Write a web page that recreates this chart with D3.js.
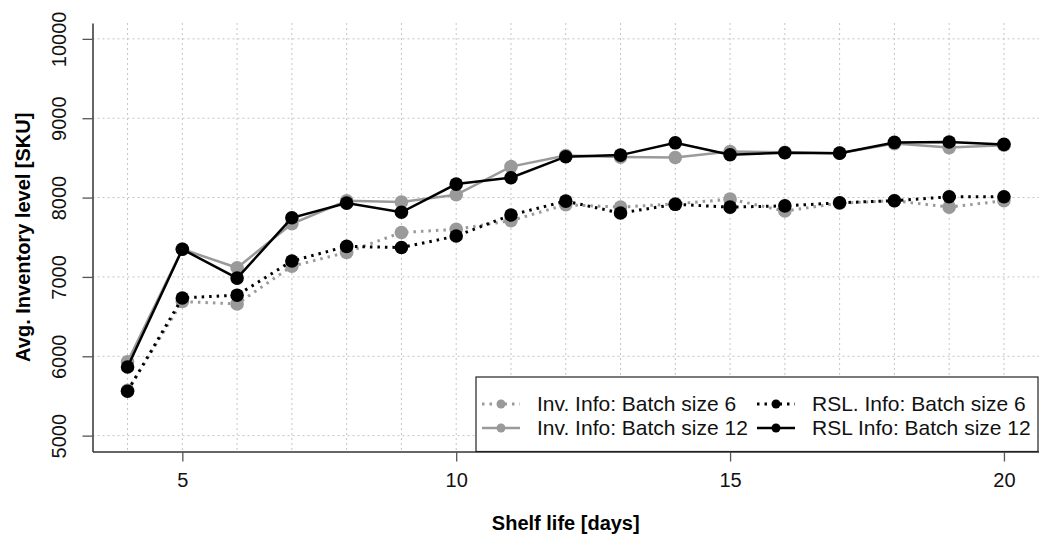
<!DOCTYPE html>
<html>
<head>
<meta charset="utf-8">
<style>
	body {margin: 0; background: #fff;}
	svg {display: block; font-family: "Liberation Sans", Arial, sans-serif;}
</style>
<script src="https://d3js.org/d3.v7.min.js"></script>
</head>
<body>
<svg id="plot1" width="1039" height="538"></svg>

<script id="chart-data">
	// values
	var shelfLife = [4, 5, 6, 7, 8, 9, 10, 11, 12, 13, 14, 15, 16, 17, 18, 19, 20];
	var invBatch6 = [5570, 6690, 6660, 7135, 7310, 7560, 7600, 7710, 7910, 7880, 7920, 7980, 7830, 7930, 7960, 7880, 7960];
	var invBatch12 = [5930, 7350, 7115, 7670, 7960, 7945, 8035, 8390, 8530, 8510, 8505, 8580, 8570, 8560, 8680, 8630, 8660];
	var rslBatch6 = [5560, 6735, 6770, 7200, 7385, 7370, 7515, 7780, 7955, 7805, 7915, 7880, 7895, 7935, 7960, 8010, 8010];
	var rslBatch12 = [5865, 7348, 6985, 7745, 7930, 7815, 8170, 8250, 8515, 8535, 8690, 8540, 8565, 8560, 8695, 8700, 8670];

	var xTicks = [5, 10, 15, 20];
	var yTicks = [5000, 6000, 7000, 8000, 9000, 10000];
	var seriesNames = ["Inv. Info: Batch size 6", "Inv. Info: Batch size 12", "RSL. Info: Batch size 6", "RSL Info: Batch size 12"];
</script>

<script id="chart-building">
	var plot1 = d3.select("#plot1");
	var grey = "#9a9a9a";

	var series = [
		{name: seriesNames[0], values: invBatch6, color: grey, dash: "2.5,5"},
		{name: seriesNames[1], values: invBatch12, color: grey, dash: null},
		{name: seriesNames[2], values: rslBatch6, color: "#000", dash: "2.5,5"},
		{name: seriesNames[3], values: rslBatch12, color: "#000", dash: null}
	];

	// R style 4% padding around xlim c(4,20) and ylim c(5000,10000)
	var x = d3.scaleLinear().domain([3.36, 20.64]).range([92.5, 1039]);
	var y = d3.scaleLinear().domain([4800, 10200]).range([451.5, 23]);

	// grid
	var grid = plot1.append("g").attr("class", "grid");
	shelfLife.forEach(function (d) {
		grid.append("line")
			.attr("x1", x(d)).attr("x2", x(d))
			.attr("y1", y.range()[1]).attr("y2", y.range()[0])
			.style("stroke", "#c4c4c4").style("stroke-width", 1)
			.style("stroke-dasharray", "2,3");
	});
	yTicks.forEach(function (d) {
		grid.append("line")
			.attr("x1", x.range()[0]).attr("x2", x.range()[1])
			.attr("y1", y(d)).attr("y2", y(d))
			.style("stroke", "#c4c4c4").style("stroke-width", 1)
			.style("stroke-dasharray", "2,3");
	});

	// axes
	var xAxis = d3.axisBottom(x).tickValues(xTicks).tickSize(10).tickPadding(11).tickSizeOuter(0);
	var gx = plot1.append("g")
		.attr("transform", "translate(0," + y.range()[0] + ")")
		.call(xAxis);

	var yAxis = d3.axisLeft(y).tickValues(yTicks).tickSize(10).tickSizeOuter(0).tickFormat(d3.format("d"));
	var gy = plot1.append("g")
		.attr("transform", "translate(" + x.range()[0] + ",0)")
		.call(yAxis);

	gx.select(".domain").style("stroke", "#333").style("stroke-width", 1.5);
	gy.select(".domain").style("stroke", "#333").style("stroke-width", 1.5);
	plot1.selectAll(".tick line").style("stroke", "#555").style("stroke-width", 1.3);
	plot1.selectAll(".tick text").style("font-size", "20px").style("font-family", "'Liberation Sans', Arial, sans-serif").style("fill", "#111");

	gy.selectAll(".tick text")
		.attr("x", 0).attr("dy", 0)
		.attr("text-anchor", "middle")
		.attr("transform", "translate(-27,0) rotate(-90)");

	// axis titles
	plot1.append("text")
		.attr("x", (x.range()[0] + x.range()[1]) / 2)
		.attr("y", 530)
		.attr("text-anchor", "middle")
		.style("font-size", "20px").style("font-weight", "bold")
		.text("Shelf life [days]");

	plot1.append("text")
		.attr("transform", "translate(30," + ((y.range()[0] + y.range()[1]) / 2) + ") rotate(-90)")
		.attr("text-anchor", "middle")
		.style("font-size", "20px").style("font-weight", "bold")
		.text("Avg. Inventory level [SKU]");

	// lines and points
	var line = d3.line()
		.x(function (d, i) { return x(shelfLife[i]); })
		.y(function (d) { return y(d); });

	series.forEach(function (s) {
		plot1.append("path")
			.datum(s.values)
			.attr("d", line)
			.style("fill", "none")
			.style("stroke", s.color)
			.style("stroke-width", s.dash ? 3 : 2.5)
			.style("stroke-dasharray", s.dash);
		s.values.forEach(function (v, i) {
			plot1.append("circle")
				.attr("cx", x(shelfLife[i]))
				.attr("cy", y(v))
				.attr("r", 6.8)
				.style("fill", s.color);
		});
	});

	// legend
	var legend = plot1.append("g");
	legend.append("rect")
		.attr("x", 476).attr("y", 377)
		.attr("width", 562).attr("height", 74.5)
		.style("fill", "#fff").style("stroke", "#222").style("stroke-width", 1.2);

	var legendPos = [[482, 404], [482, 428], [757, 404], [757, 428]];
	series.forEach(function (s, i) {
		var lx = legendPos[i][0], ly = legendPos[i][1];
		legend.append("line")
			.attr("x1", lx).attr("x2", lx + 38)
			.attr("y1", ly).attr("y2", ly)
			.style("stroke", s.color)
			.style("stroke-width", s.dash ? 3 : 2.5)
			.style("stroke-dasharray", s.dash ? "2.5,5" : null);
		legend.append("circle")
			.attr("cx", lx + 19).attr("cy", ly)
			.attr("r", 4.5)
			.style("fill", s.color);
		legend.append("text")
			.attr("x", lx + 55).attr("y", ly + 7)
			.style("font-size", "21px").style("fill", "#111")
			.text(s.name);
	});
</script>
</body>
</html>
